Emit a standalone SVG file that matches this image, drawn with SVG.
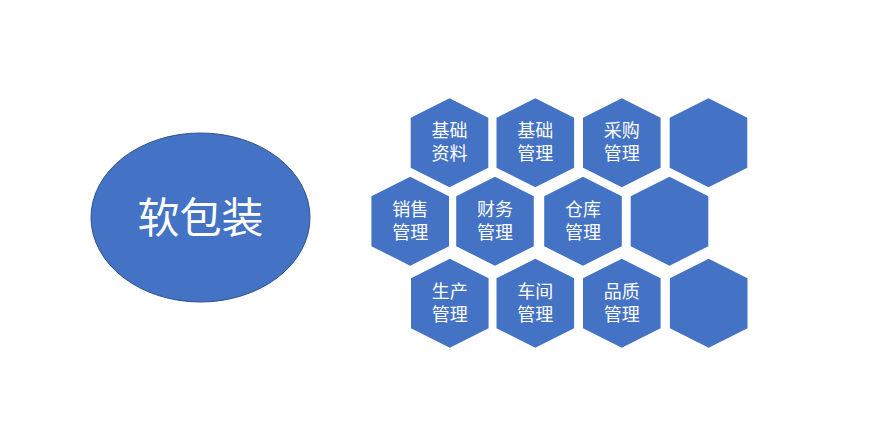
<svg xmlns="http://www.w3.org/2000/svg" width="872" height="428" viewBox="0 0 872 428">
<defs>
<style>
.hex{fill:#4472C4;stroke:none}
.t{font-family:"Microsoft YaHei","Noto Sans CJK SC",sans-serif;font-size:18px;fill:#FFFFFF;text-anchor:middle}
.big{font-family:"Microsoft YaHei","Noto Sans CJK SC",sans-serif;font-size:42px;fill:#FFFFFF;text-anchor:middle}
</style>
<polygon id="hx" points="0,-44.5 38.8,-25 38.8,25 0,44.5 -38.8,25 -38.8,-25"/>
</defs>
<rect width="872" height="428" fill="#FFFFFF"/>
<g id="main">
<ellipse cx="200.5" cy="217.5" rx="109.5" ry="84.5" fill="#4472C4" stroke="#2F528F" stroke-width="1"/>
<text class="big" x="200.5" y="233">软包装</text>
</g>
<g id="connectors"></g>
<g id="n1"><use href="#hx" class="hex" x="449.5" y="142.7"/><text class="t" y="137.2"><tspan x="449.5">基础</tspan><tspan x="449.5" dy="23">资料</tspan></text></g>
<g id="n2"><use href="#hx" class="hex" x="535.3" y="142.7"/><text class="t" y="137.2"><tspan x="535.3">基础</tspan><tspan x="535.3" dy="23">管理</tspan></text></g>
<g id="n3"><use href="#hx" class="hex" x="621.8" y="142.7"/><text class="t" y="137.2"><tspan x="621.8">采购</tspan><tspan x="621.8" dy="23">管理</tspan></text></g>
<g id="n4"><use href="#hx" class="hex" x="708.5" y="142.7"/></g>
<g id="n5"><use href="#hx" class="hex" x="410.2" y="221.2"/><text class="t" y="215.7"><tspan x="410.2">销售</tspan><tspan x="410.2" dy="23">管理</tspan></text></g>
<g id="n6"><use href="#hx" class="hex" x="495" y="221.2"/><text class="t" y="215.7"><tspan x="495">财务</tspan><tspan x="495" dy="23">管理</tspan></text></g>
<g id="n7"><use href="#hx" class="hex" x="583" y="221.2"/><text class="t" y="215.7"><tspan x="583">仓库</tspan><tspan x="583" dy="23">管理</tspan></text></g>
<g id="n8"><use href="#hx" class="hex" x="669.5" y="221.2"/></g>
<g id="n9"><use href="#hx" class="hex" x="449.8" y="303.2"/><text class="t" y="297.7"><tspan x="449.8">生产</tspan><tspan x="449.8" dy="23">管理</tspan></text></g>
<g id="n10"><use href="#hx" class="hex" x="535.3" y="303.2"/><text class="t" y="297.7"><tspan x="535.3">车间</tspan><tspan x="535.3" dy="23">管理</tspan></text></g>
<g id="n11"><use href="#hx" class="hex" x="621.8" y="303.2"/><text class="t" y="297.7"><tspan x="621.8">品质</tspan><tspan x="621.8" dy="23">管理</tspan></text></g>
<g id="n12"><use href="#hx" class="hex" x="708.7" y="303.2"/></g>
</svg>
